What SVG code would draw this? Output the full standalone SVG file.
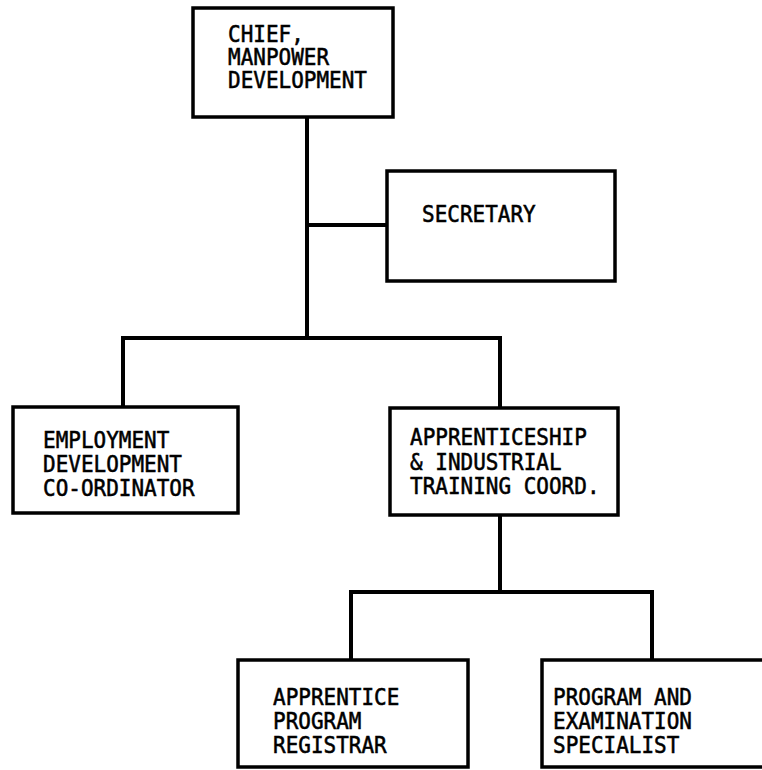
<svg xmlns="http://www.w3.org/2000/svg" width="762" height="770" viewBox="0 0 762 770">
  <style>
    .box { fill: #fff; stroke: #000; stroke-width: 3.5; }
    .line { fill: none; stroke: #000; stroke-width: 4; stroke-linecap: square; }
    .lbl { font-family: "DejaVu Sans Mono", "Liberation Mono", monospace; font-size: 21px; fill: #000; stroke: #000; stroke-width: 0.5; }
  </style>
  <rect width="762" height="770" fill="#fff"/>

  <!-- connectors -->
  <g id="connectors">
    <path class="line" d="M307 117 V338"/>
    <path class="line" d="M307 225 H387"/>
    <path class="line" d="M123 338 H500"/>
    <path class="line" d="M123 338 V407"/>
    <path class="line" d="M500 338 V408"/>
    <path class="line" d="M500 515 V592"/>
    <path class="line" d="M351 592 H652"/>
    <path class="line" d="M351 592 V660"/>
    <path class="line" d="M652 592 V660"/>
  </g>

  <!-- labels are stretched vertically (1.12) for the tall condensed lettering -->
  <g id="chief">
    <rect class="box" x="193" y="8" width="200" height="109"/>
    <text class="lbl" transform="matrix(1 0 0 1.12 228 42)">CHIEF,</text>
    <text class="lbl" transform="matrix(1 0 0 1.12 228 65)">MANPOWER</text>
    <text class="lbl" transform="matrix(1 0 0 1.12 228 88)">DEVELOPMENT</text>
  </g>

  <g id="secretary">
    <rect class="box" x="387" y="171" width="228" height="110"/>
    <text class="lbl" transform="matrix(1 0 0 1.12 422 222)">SECRETARY</text>
  </g>

  <g id="employment">
    <rect class="box" x="13" y="407" width="225" height="106"/>
    <text class="lbl" transform="matrix(1 0 0 1.12 43 448)">EMPLOYMENT</text>
    <text class="lbl" transform="matrix(1 0 0 1.12 43 472)">DEVELOPMENT</text>
    <text class="lbl" transform="matrix(1 0 0 1.12 43 496)">CO-ORDINATOR</text>
  </g>

  <g id="apprenticeship">
    <rect class="box" x="390" y="408" width="228" height="107"/>
    <text class="lbl" transform="matrix(1 0 0 1.12 410 445)">APPRENTICESHIP</text>
    <text class="lbl" transform="matrix(1 0 0 1.12 410 470)">&amp; INDUSTRIAL</text>
    <text class="lbl" transform="matrix(1 0 0 1.12 410 494)">TRAINING COORD.</text>
  </g>

  <g id="registrar">
    <rect class="box" x="238" y="660" width="230" height="107"/>
    <text class="lbl" transform="matrix(1 0 0 1.12 273 705)">APPRENTICE</text>
    <text class="lbl" transform="matrix(1 0 0 1.12 273 729)">PROGRAM</text>
    <text class="lbl" transform="matrix(1 0 0 1.12 273 753)">REGISTRAR</text>
  </g>

  <g id="specialist">
    <rect class="box" x="542" y="660" width="240" height="107"/>
    <text class="lbl" transform="matrix(1 0 0 1.12 553 705)">PROGRAM AND</text>
    <text class="lbl" transform="matrix(1 0 0 1.12 553 729)">EXAMINATION</text>
    <text class="lbl" transform="matrix(1 0 0 1.12 553 753)">SPECIALIST</text>
  </g>
</svg>
